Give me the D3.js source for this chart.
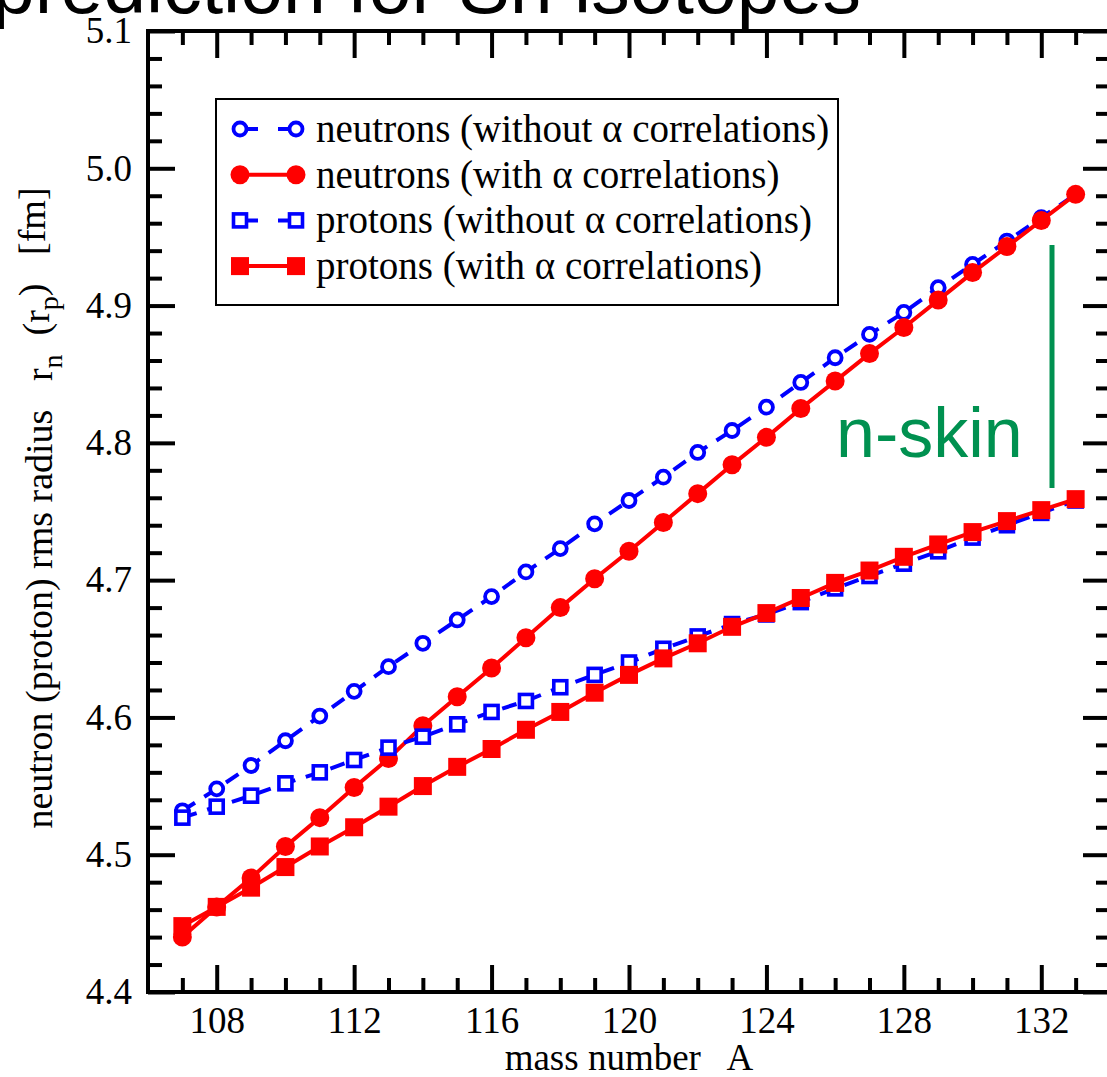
<!DOCTYPE html>
<html>
<head>
<meta charset="utf-8">
<script src="https://cdn.jsdelivr.net/npm/d3@7"></script>
<style>
  html, body { margin: 0; padding: 0; background: #fff; overflow: hidden; }
  svg { display: block; }
  text { white-space: pre; }
</style>
</head>
<body>
<svg id="chart" width="1107" height="1077"></svg>
<script>
// Sn isotopes: rms radii of neutron and proton densities, with and without alpha correlations
const massNumbers = [107, 108, 109, 110, 111, 112, 113, 114, 115, 116, 117, 118, 119, 120,
                     121, 122, 123, 124, 125, 126, 127, 128, 129, 130, 131, 132, 133];

const neutronsNoAlpha = [4.532, 4.548, 4.565, 4.583, 4.601, 4.619, 4.637, 4.654, 4.671, 4.688,
                         4.706, 4.723, 4.741, 4.758, 4.775, 4.793, 4.809, 4.826, 4.844, 4.862,
                         4.879, 4.895, 4.913, 4.930, 4.947, 4.964, 4.981];
const neutronsAlpha   = [4.440, 4.462, 4.483, 4.506, 4.527, 4.549, 4.570, 4.594, 4.615, 4.636,
                         4.658, 4.680, 4.701, 4.721, 4.742, 4.763, 4.784, 4.804, 4.825, 4.845,
                         4.865, 4.884, 4.904, 4.924, 4.943, 4.962, 4.981];
const protonsNoAlpha  = [4.527, 4.535, 4.543, 4.552, 4.560, 4.569, 4.578, 4.586, 4.595, 4.604,
                         4.612, 4.622, 4.631, 4.640, 4.650, 4.659, 4.668, 4.675, 4.684, 4.694,
                         4.703, 4.712, 4.721, 4.731, 4.740, 4.749, 4.758];
const protonsAlpha    = [4.448, 4.462, 4.476, 4.491, 4.506, 4.520, 4.535, 4.550, 4.564, 4.577,
                         4.591, 4.604, 4.618, 4.631, 4.643, 4.654, 4.666, 4.676, 4.687, 4.698,
                         4.707, 4.717, 4.726, 4.735, 4.743, 4.751, 4.759];

const xMajorTicks = [108, 112, 116, 120, 124, 128, 132];
const xMinorTicks = [107, 109, 110, 111, 113, 114, 115, 117, 118, 119, 121, 122, 123,
                     125, 126, 127, 129, 130, 131, 133];
const yMajorTicks = [4.4, 4.5, 4.6, 4.7, 4.8, 4.9, 5.0, 5.1];
const yMinorTicks = [4.42, 4.44, 4.46, 4.48, 4.52, 4.54, 4.56, 4.58, 4.62, 4.64, 4.66, 4.68,
                     4.72, 4.74, 4.76, 4.78, 4.82, 4.84, 4.86, 4.88, 4.92, 4.94, 4.96, 4.98,
                     5.02, 5.04, 5.06, 5.08];

const seriesLabels = [
  "neutrons (without \u03b1 correlations)",
  "neutrons (with \u03b1 correlations)",
  "protons (without \u03b1 correlations)",
  "protons (with \u03b1 correlations)"
];

const BLUE = "#0000ff", RED = "#ff0000", GREEN = "#009150";
const serif = "'Liberation Serif', 'Times New Roman', serif";
const sans = "'Liberation Sans', Arial, Helvetica, sans-serif";

const series = [
  { values: neutronsNoAlpha, color: BLUE, dashed: true,  shape: "circle", filled: false, label: seriesLabels[0] },
  { values: neutronsAlpha,   color: RED,  dashed: false, shape: "circle", filled: true,  label: seriesLabels[1] },
  { values: protonsNoAlpha,  color: BLUE, dashed: true,  shape: "square", filled: false, label: seriesLabels[2] },
  { values: protonsAlpha,    color: RED,  dashed: false, shape: "square", filled: true,  label: seriesLabels[3] }
];

const svg = d3.select("#chart");

const plot = { left: 148, right: 1110, top: 31, bottom: 992 };
const x = d3.scaleLinear().domain([106, 134]).range([plot.left, plot.right]);
const y = d3.scaleLinear().domain([4.4, 5.1]).range([plot.bottom, plot.top]);

// Title along the top edge
svg.append("text")
  .attr("x", -8).attr("y", 13)
  .attr("font-family", sans).attr("font-size", 77)
  .attr("fill", "#000")
  .text("prediction for Sn isotopes");

// Axes with inward ticks on all four sides
const tickFont = 37;
function styleAxis(g) {
  g.select(".domain").remove();
  g.selectAll(".tick line").attr("stroke", "#000").attr("stroke-width", 4);
  g.selectAll(".tick text").attr("font-family", serif).attr("font-size", tickFont).attr("fill", "#000");
}
const MAJ = 27, MIN = 14;

svg.append("g").attr("transform", `translate(0,${plot.bottom})`)
  .call(d3.axisBottom(x).tickValues(xMajorTicks).tickSize(-MAJ).tickPadding(15).tickFormat(d3.format("d")))
  .call(styleAxis);
svg.append("g").attr("transform", `translate(0,${plot.bottom})`)
  .call(d3.axisBottom(x).tickValues(xMinorTicks).tickSize(-MIN).tickFormat(""))
  .call(styleAxis);
svg.append("g").attr("transform", `translate(0,${plot.top})`)
  .call(d3.axisTop(x).tickValues(xMajorTicks).tickSize(-MAJ).tickFormat(""))
  .call(styleAxis);
svg.append("g").attr("transform", `translate(0,${plot.top})`)
  .call(d3.axisTop(x).tickValues(xMinorTicks).tickSize(-MIN).tickFormat(""))
  .call(styleAxis);

svg.append("g").attr("transform", `translate(${plot.left},0)`)
  .call(d3.axisLeft(y).tickValues(yMajorTicks).tickSize(-MAJ).tickPadding(16).tickFormat(d3.format(".1f")))
  .call(styleAxis);
svg.append("g").attr("transform", `translate(${plot.left},0)`)
  .call(d3.axisLeft(y).tickValues(yMinorTicks).tickSize(-MIN).tickFormat(""))
  .call(styleAxis);
svg.append("g").attr("transform", `translate(${plot.right},0)`)
  .call(d3.axisRight(y).tickValues(yMajorTicks).tickSize(-MAJ).tickFormat(""))
  .call(styleAxis);
svg.append("g").attr("transform", `translate(${plot.right},0)`)
  .call(d3.axisRight(y).tickValues(yMinorTicks).tickSize(-MIN).tickFormat(""))
  .call(styleAxis);

// Frame
svg.append("rect")
  .attr("x", plot.left).attr("y", plot.top)
  .attr("width", plot.right - plot.left).attr("height", plot.bottom - plot.top)
  .attr("fill", "none").attr("stroke", "#000").attr("stroke-width", 4);

// Axis titles
svg.append("text")
  .attr("x", (plot.left + plot.right) / 2).attr("y", 1070)
  .attr("text-anchor", "middle")
  .attr("font-family", serif).attr("font-size", 37)
  .text("mass number   A");

const yTitle = svg.append("text")
  .attr("transform", `translate(52,508) rotate(-90)`)
  .attr("text-anchor", "middle")
  .attr("font-family", serif).attr("font-size", 38);
yTitle.append("tspan").text("neutron (proton) rms radius   r");
yTitle.append("tspan").attr("dy", "0.35em").attr("font-size", 28).text("n");
yTitle.append("tspan").attr("dy", "-0.35em").text("  (r");
yTitle.append("tspan").attr("dy", "0.35em").attr("font-size", 28).text("p");
yTitle.append("tspan").attr("dy", "-0.35em").text(")   [fm]");

// Markers
function drawMarker(g, shape, filled, color, cx, cy) {
  if (shape === "circle") {
    g.append("circle").attr("cx", cx).attr("cy", cy)
      .attr("r", filled ? 9.5 : 6.5)
      .attr("fill", filled ? color : "#fff")
      .attr("stroke", color).attr("stroke-width", filled ? 0 : 3.8);
  } else {
    const s = filled ? 18 : 13;
    g.append("rect").attr("x", cx - s / 2).attr("y", cy - s / 2)
      .attr("width", s).attr("height", s)
      .attr("fill", filled ? color : "#fff")
      .attr("stroke", color).attr("stroke-width", filled ? 0 : 3.6);
  }
}

const line = d3.line().x(d => x(d.a)).y(d => y(d.v));

series.forEach(s => {
  const pts = massNumbers.map((a, i) => ({ a, v: s.values[i] }));
  const g = svg.append("g");
  g.append("path").datum(pts)
    .attr("d", line)
    .attr("fill", "none")
    .attr("stroke", s.color).attr("stroke-width", 4)
    .attr("stroke-dasharray", s.dashed ? "15,11" : null);
  pts.forEach(p => drawMarker(g, s.shape, s.filled, s.color, x(p.a), y(p.v)));
});

// n-skin annotation
svg.append("line")
  .attr("x1", 1052).attr("x2", 1052).attr("y1", 245).attr("y2", 488)
  .attr("stroke", GREEN).attr("stroke-width", 5);
svg.append("text")
  .attr("x", 836).attr("y", 457)
  .attr("font-family", sans).attr("font-size", 70)
  .attr("fill", GREEN)
  .text("n-skin");

// Legend
const legend = svg.append("g");
legend.append("rect")
  .attr("x", 216).attr("y", 99).attr("width", 622).attr("height", 206)
  .attr("fill", "#fff").attr("stroke", "#000").attr("stroke-width", 2);
series.forEach((s, i) => {
  const ly = 129 + i * 45.7;
  const g = legend.append("g");
  g.append("line").attr("x1", 240).attr("x2", 296).attr("y1", ly).attr("y2", ly)
    .attr("stroke", s.color).attr("stroke-width", 4)
    .attr("stroke-dasharray", s.dashed ? "18,20" : null);
  drawMarker(g, s.shape, s.filled, s.color, 240, ly);
  drawMarker(g, s.shape, s.filled, s.color, 296, ly);
  g.append("text").attr("x", 316).attr("y", ly).attr("dy", "0.33em")
    .attr("font-family", serif).attr("font-size", 39)
    .text(s.label);
});
</script>
</body>
</html>
